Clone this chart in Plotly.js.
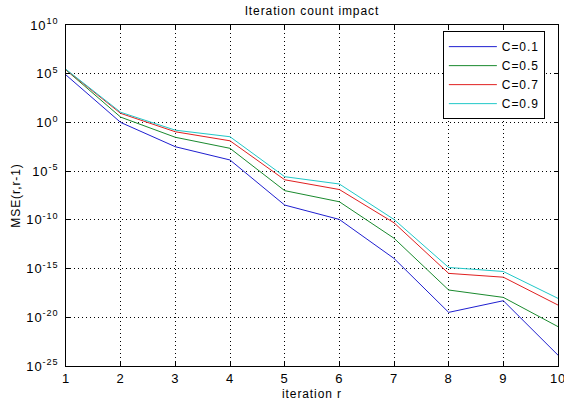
<!DOCTYPE html>
<html>
<head>
<meta charset="utf-8">
<script src="https://cdn.plot.ly/plotly-3.0.1.min.js"></script>
<style>html,body{margin:0;padding:0;background:#fff;}#chart{width:564px;height:403px;}
svg text{letter-spacing:0.9px;}</style>
</head>
<body>
<div id="chart"></div>
<script>
var iterations = [1, 2, 3, 4, 5, 6, 7, 8, 9, 10];
var seriesNames = ["C=0.1", "C=0.5", "C=0.7", "C=0.9"];
var mseC01 = [7.4e4, 1.0, 3.2e-3, 1.4e-4, 3.3e-9, 1.1e-10, 1.1e-14, 3.2e-20, 5.0e-19, 1.3e-24];
var mseC05 = [2.4e5, 3.5, 3.0e-2, 2.2e-3, 1.0e-7, 7.2e-9, 1.3e-12, 6.3e-18, 1.1e-18, 1.1e-21];
var mseC07 = [2.5e5, 8.5, 1.1e-1, 1.3e-2, 1.3e-6, 1.3e-7, 5.0e-11, 3.2e-16, 1.3e-16, 1.8e-19];
var mseC09 = [2.8e5, 11, 1.6e-1, 3.4e-2, 2.7e-6, 4.8e-7, 1.1e-10, 1.3e-15, 5.0e-16, 8.7e-19];
var yTickVals = [1e10, 1e5, 1, 1e-5, 1e-10, 1e-15, 1e-20, 1e-25];
var yTickText = ["10<sup>10</sup>", "10<sup>5</sup>", "10<sup>0</sup>", "10<sup>-5</sup>", "10<sup>-10</sup>", "10<sup>-15</sup>", "10<sup>-20</sup>", "10<sup>-25</sup>"];
var xTickVals = [1, 2, 3, 4, 5, 6, 7, 8, 9, 10];

var colors = ["#1f1fd0", "#1a8a2e", "#e02020", "#20c8c8"];
var allSeries = [mseC01, mseC05, mseC07, mseC09];
var traces = allSeries.map(function (s, i) {
  return {
    x: iterations, y: s, type: "scatter", mode: "lines",
    name: seriesNames[i],
    line: {color: colors[i], width: 1}
  };
});

var font = {family: "Liberation Sans, Arial, sans-serif", size: 12, color: "#000"};
var layout = {
  width: 564, height: 403,
  margin: {l: 66, r: 6, t: 25, b: 37},
  paper_bgcolor: "#fff", plot_bgcolor: "#fff",
  font: font,
  title: {text: "Iteration count impact", font: {family: font.family, size: 12, color: "#000"}, x: 0.553, xanchor: "center", y: 0.973, yanchor: "middle"},
  showlegend: true,
  legend: {
    x: 0.766, y: 0.982, xanchor: "left", yanchor: "top",
    bgcolor: "#fff", bordercolor: "#000", borderwidth: 1,
    font: {family: font.family, size: 12, color: "#000"},
    tracegroupgap: 0, itemwidth: 48
  },
  xaxis: {
    range: [1, 10], tickvals: xTickVals, ticks: "inside", ticklen: 4, tickcolor: "#000",
    showline: true, linecolor: "#000", linewidth: 1, mirror: "ticks",
    showgrid: true, gridcolor: "#000", gridwidth: 1, griddash: "1px,3px",
    zeroline: false, ticklabeloverflow: "allow",
    tickfont: {family: font.family, size: 13, color: "#000"},
    title: {text: "iteration r", font: {family: font.family, size: 12, color: "#000"}, standoff: 5}
  },
  yaxis: {
    type: "log", range: [-25, 10], tickvals: yTickVals, ticktext: yTickText,
    ticks: "inside", ticklen: 4, tickcolor: "#000",
    showline: true, linecolor: "#000", linewidth: 1, mirror: "ticks",
    showgrid: true, gridcolor: "#000", gridwidth: 1, griddash: "1px,3px",
    zeroline: false, ticklabelstandoff: 4, ticklabeloverflow: "allow",
    tickfont: {family: font.family, size: 13, color: "#000"},
    title: {text: "MSE(r,r-1)", font: {family: font.family, size: 12, color: "#000"}, standoff: 3}
  }
};
Plotly.newPlot("chart", traces, layout, {displayModeBar: false, staticPlot: true});
</script>
</body>
</html>
